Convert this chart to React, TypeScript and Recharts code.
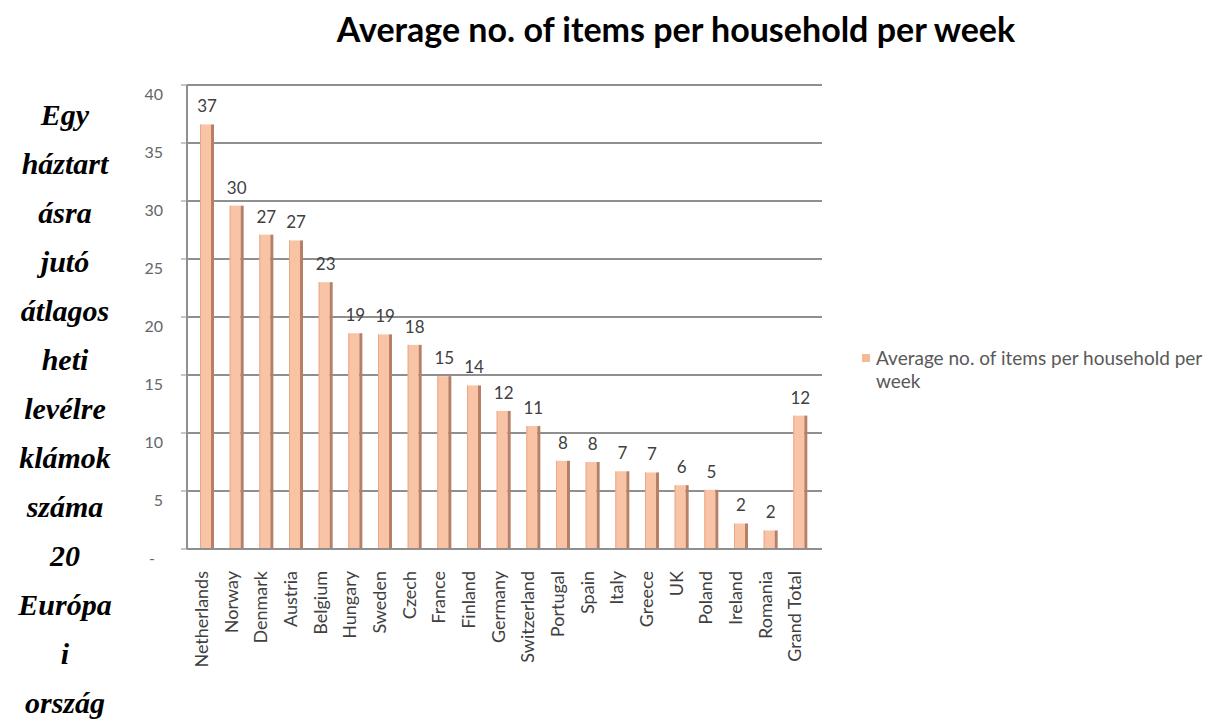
import React from "react";
import {
  BarChart,
  Bar,
  XAxis,
  YAxis,
  CartesianGrid,
  LabelList,
} from "recharts";

const chartTitle = "Average no. of items per household per week";
const seriesName = "Average no. of items per household per week";

const countries = [
  "Netherlands",
  "Norway",
  "Denmark",
  "Austria",
  "Belgium",
  "Hungary",
  "Sweden",
  "Czech",
  "France",
  "Finland",
  "Germany",
  "Switzerland",
  "Portugal",
  "Spain",
  "Italy",
  "Greece",
  "UK",
  "Poland",
  "Ireland",
  "Romania",
  "Grand Total",
];

// labels are the rounded values
const itemsPerWeek = [
  36.6, 29.6, 27.1, 26.6, 23.0, 18.6, 18.5, 17.6, 14.9, 14.1, 11.9, 10.6, 7.6,
  7.5, 6.7, 6.6, 5.5, 5.1, 2.2, 1.6, 11.5,
];

const yTicks = [0, 5, 10, 15, 20, 25, 30, 35, 40];

// side note in the left table cell, broken the way the page shows it
const sideNote = [
  "Egy",
  "háztart",
  "ásra",
  "jutó",
  "átlagos",
  "heti",
  "levélre",
  "klámok",
  "száma",
  "20",
  "Európa",
  "i",
  "ország",
];

const data = countries.map((name, i) => ({ name, value: itemsPerWeek[i] }));

const FONT = "Lato, 'Open Sans', sans-serif";
const GRID = "#8f8f8f";
const BAR_FILL = "#f5b995";

function Bar3D(props: any) {
  const { x, y, width, height } = props;
  if (!height || height <= 0) return null;
  const side = 3;
  return (
    <g>
      <rect x={x} y={y} width={width - side} height={height} fill="#f9c4a5" />
      <rect x={x} y={y} width={1} height={height} fill="#e9a888" />
      <rect x={x + width - side} y={y} width={side} height={height} fill="#b67f66" />
    </g>
  );
}

function CountryTick(props: any) {
  const { x, y, payload } = props;
  return (
    <g transform={`translate(${x - 5},${y + 14})`}>
      <text
        transform="rotate(-90)"
        textAnchor="end"
        dy="0.35em"
        fontSize={18}
        fill="#404040"
        fontFamily={FONT}
      >
        {payload.value}
      </text>
    </g>
  );
}

function ValueTick(props: any) {
  const { x, y, payload } = props;
  const v = payload.value;
  return (
    <text
      x={v === 0 ? x - 8 : x}
      y={y + 9}
      dy="0.35em"
      textAnchor="end"
      fontSize={16}
      fill="#666"
      fontFamily={FONT}
    >
      {v === 0 ? "-" : v}
    </text>
  );
}

export default function App() {
  return (
    <div
      style={{
        position: "absolute",
        left: 0,
        top: 0,
        width: 1211,
        height: 725,
        background: "#fff",
        overflow: "hidden",
      }}
    >
      <div
        style={{
          position: "absolute",
          left: 0,
          top: 90,
          width: 130,
          textAlign: "center",
          fontFamily: "'Liberation Serif', serif",
          fontWeight: "bold",
          fontStyle: "italic",
          fontSize: 30,
          lineHeight: "49px",
          color: "#000",
        }}
      >
        {sideNote.map((line, i) => (
          <div key={i}>{line}</div>
        ))}
      </div>

      <div
        style={{
          position: "absolute",
          left: 276,
          top: 9,
          width: 800,
          textAlign: "center",
          fontFamily: FONT,
          fontWeight: "bold",
          fontSize: 34,
          lineHeight: "40px",
          color: "#000",
          zIndex: 2,
        }}
      >
        {chartTitle}
      </div>

      <div style={{ position: "absolute", left: 0, top: 0 }}>
        <BarChart
          width={1211}
          height={725}
          data={data}
          margin={{ top: 85, right: 389, bottom: 46, left: 127 }}
        >
          <CartesianGrid vertical={false} stroke={GRID} strokeWidth={2} />
          <XAxis
            dataKey="name"
            interval={0}
            height={130}
            padding={{ left: 5, right: 7 }}
            tick={<CountryTick />}
            tickLine={false}
            axisLine={{ stroke: GRID, strokeWidth: 2 }}
          />
          <YAxis
            width={60}
            domain={[0, 40]}
            ticks={yTicks}
            interval={0}
            tickSize={6}
            tickMargin={18}
            tick={<ValueTick />}
            tickLine={{ stroke: GRID }}
            axisLine={{ stroke: GRID, strokeWidth: 2 }}
          />
          <Bar
            dataKey="value"
            name={seriesName}
            fill={BAR_FILL}
            barSize={14}
            shape={<Bar3D />}
            isAnimationActive={false}
          >
            <LabelList
              dataKey="value"
              position="top"
              offset={12}
              formatter={(v: any) => Math.round(Number(v))}
              fill="#404040"
              fontSize={17}
              fontFamily={FONT}
            />
          </Bar>
        </BarChart>
      </div>

      <div
        style={{
          position: "absolute",
          left: 862,
          top: 346,
          width: 349,
          display: "flex",
          alignItems: "flex-start",
          fontFamily: FONT,
        }}
      >
        <span
          style={{
            width: 8,
            height: 8,
            marginTop: 8,
            marginRight: 6,
            background: BAR_FILL,
            flex: "none",
          }}
        />
        <span
          style={{
            fontSize: 19,
            lineHeight: "23px",
            color: "#595959",
            width: 334,
          }}
        >
          {seriesName}
        </span>
      </div>
    </div>
  );
}
